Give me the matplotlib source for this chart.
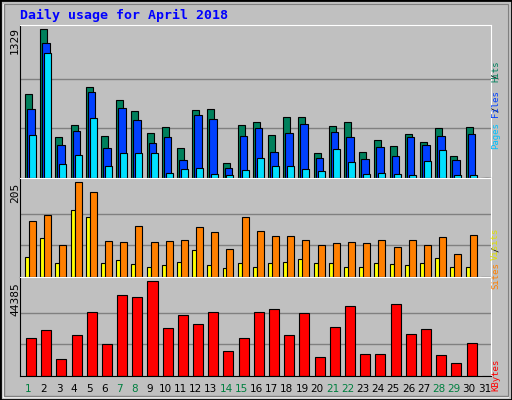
import numpy as np
import matplotlib
matplotlib.use('Agg')
import matplotlib.pyplot as plt
from matplotlib.patches import Rectangle

days = list(range(1, 32))
weekend_days = [1, 7, 8, 14, 15, 21, 22, 28, 29]

hits = [752, 1329, 364, 472, 815, 373, 698, 598, 400, 454, 265, 607, 616, 138, 472,
        499, 382, 544, 544, 220, 463, 499, 229, 337, 283, 391, 319, 445, 201, 454, 0]
files = [616, 1212, 292, 418, 770, 265, 625, 517, 310, 364, 165, 562, 526, 93, 373,
         445, 229, 400, 481, 183, 409, 364, 174, 274, 201, 364, 292, 373, 165, 391, 0]
pages = [382, 1122, 129, 210, 535, 111, 220, 220, 220, 48, 84, 93, 39, 30, 75,
         183, 111, 111, 84, 66, 256, 147, 39, 48, 39, 30, 156, 247, 30, 30, 0]
visits = [42, 85, 31, 145, 129, 31, 36, 29, 22, 25, 33, 58, 25, 20, 31,
          22, 31, 33, 38, 31, 31, 22, 22, 31, 27, 25, 31, 40, 22, 22, 0]
sites = [120, 134, 69, 205, 183, 78, 76, 109, 76, 78, 80, 107, 96, 60, 129,
         98, 89, 89, 80, 69, 74, 76, 74, 80, 65, 80, 69, 87, 49, 91, 0]
kbytes = [17658, 21546, 7938, 19116, 29808, 14742, 37584, 36612, 44385, 22518, 28350,
          24462, 29808, 11826, 17658, 29808, 31266, 19116, 29322, 8910, 23004, 32724,
          10368, 10368, 33696, 19602, 22032, 9882, 5994, 15228, 0]

BG = '#C0C0C0'
W, H = 512, 400

fig = plt.figure(figsize=(W / 100, H / 100), dpi=100, facecolor=BG)

# bevelled outer border
fig.patches.append(Rectangle((0, 0), 1, 1, transform=fig.transFigure, fill=False,
                             edgecolor='black', linewidth=2))
fig.patches.append(Rectangle((3 / W, 3 / H), 1 - 7 / W, 1 - 7 / H, transform=fig.transFigure,
                             fill=False, edgecolor='white', linewidth=1))
fig.patches.append(Rectangle((4 / W, 4 / H), 1 - 8 / W, 1 - 8 / H, transform=fig.transFigure,
                             fill=False, edgecolor='#808080', linewidth=1))

mono = 'DejaVu Sans Mono'
fig.text(20 / W, 1 - 15 / H, 'Daily usage for April 2018', color='#0000FF', fontsize=9.5,
         fontweight='bold', family=mono, va='center', ha='left')


def make_ax(top, bottom):
    ax = fig.add_axes([20 / W, 1 - bottom / H, 471 / W, (bottom - top) / H], facecolor=BG)
    ax.set_xlim(0, 31)
    ax.set_xticks([])
    ax.set_yticks([])
    for s in ['left', 'bottom']:
        ax.spines[s].set_color('black')
    for s in ['top', 'right']:
        ax.spines[s].set_color('white')
    return ax


x = np.arange(31)
kw = dict(align='edge', edgecolor='black', linewidth=0.8)

ax1 = make_ax(25, 178)
ax1.set_ylim(0, 1329 * 1.03)
for g in [1329 / 3, 2 * 1329 / 3]:
    ax1.axhline(g, color='#808080', linewidth=1, zorder=0)
ax1.bar(x + 0.33, hits, width=0.46, color='#00805C', **kw)
ax1.bar(x + 0.46, files, width=0.5, color='#0040FF', **kw)
ax1.bar(x + 0.59, pages, width=0.46, color='#00E0FF', **kw)

ax2 = make_ax(178, 277)
ax2.set_ylim(0, 205 * 1.04)
for g in [205 / 3, 2 * 205 / 3]:
    ax2.axhline(g, color='#808080', linewidth=1, zorder=0)
ax2.bar(x + 0.33, visits, width=0.3, color='#FFFF00', **kw)
ax2.bar(x + 0.59, sites, width=0.46, color='#FF8000', **kw)

ax3 = make_ax(277, 376)
ax3.set_ylim(0, 44385 * 1.04)
for g in [44385 / 3, 2 * 44385 / 3]:
    ax3.axhline(g, color='#808080', linewidth=1, zorder=0)
ax3.bar(x + 0.39, kbytes, width=0.66, color='#FF0000', **kw)

# max labels on the left
for val, ytop in [('1329', 27), ('205', 183), ('44385', 282)]:
    fig.text(15 / W, 1 - ytop / H, val, rotation=90, fontsize=8, family=mono,
             ha='center', va='top', color='black')

# legends on the right, stacked piece by piece
LEG_FS = 6.5
CHAR_PX = LEG_FS * 100 / 72 * 0.602


def right_label(parts, ybottom):
    y = 1 - ybottom / H
    for txt, col in parts:
        fig.text(500 / W, y, txt, rotation=90, fontsize=LEG_FS, family=mono,
                 ha='center', va='bottom', color=col, rotation_mode='anchor')
        y += len(txt) * CHAR_PX / H


right_label([('Pages', '#00C0FF'), ('/', '#000000'), ('Files', '#0040FF'),
             ('/', '#000000'), ('Hits', '#00805C')], 136)
right_label([('Sites', '#FF8000'), ('/', '#000000'), ('Visits', '#E0E000')], 276)
right_label([('KBytes', '#FF0000')], 375)

# day labels
for d in days:
    col = '#008040' if d in weekend_days else 'black'
    fig.text((20 + (d - 0.5) * 471 / 31 + 1) / W, 1 - 389 / H, str(d), fontsize=7.5,
             ha='center', va='center', color=col)

fig.savefig('out.png', dpi=100, facecolor=BG)
